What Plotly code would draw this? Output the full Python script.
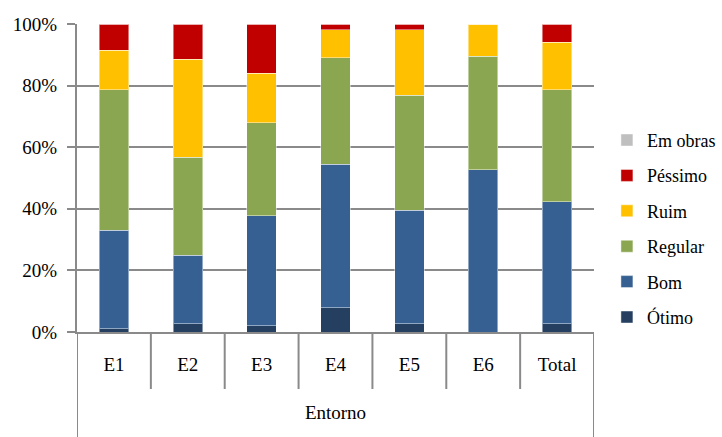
import plotly.graph_objects as go

categories = ["E1", "E2", "E3", "E4", "E5", "E6", "Total"]
otimo   = [1.0, 2.7, 2.0, 7.9, 2.7, 0.0, 2.7]
bom     = [32.1, 22.3, 35.8, 46.5, 36.8, 52.7, 39.6]
regular = [45.6, 31.8, 30.2, 34.6, 37.3, 36.8, 36.4]
ruim    = [12.8, 31.7, 16.0, 9.2, 21.4, 10.5, 15.4]
pessimo = [8.5, 11.5, 16.0, 1.8, 1.8, 0.0, 5.9]
em_obras = [0, 0, 0, 0, 0, 0, 0]
y_ticks = [0, 20, 40, 60, 80, 100]
group_label = "Entorno"

series = [
    ("Ótimo", otimo, "#243F60"),
    ("Bom", bom, "#366092"),
    ("Regular", regular, "#8BA650"),
    ("Ruim", ruim, "#FFC000"),
    ("Péssimo", pessimo, "#C00000"),
    ("Em obras", em_obras, "#BFBFBF"),
]

GRID = "#8A8A8A"
FONT = "Liberation Serif"

fig = go.Figure()
n = len(series)
for k, (name, vals, color) in enumerate(series):
    fig.add_trace(go.Bar(
        x=categories, y=vals, name=name, legendgroup=name, legendrank=n - k,
        marker=dict(color=color, line=dict(color="rgba(255,255,255,0.45)", width=1)),
    ))

# category separators below the axis
shapes = []
for i in range(len(categories) - 1):
    shapes.append(dict(type="line", xref="x", yref="paper", x0=i + 0.5, x1=i + 0.5,
                       y0=0, y1=-0.185, line=dict(color=GRID, width=2)))
for xb in (-0.5, len(categories) - 0.5):
    shapes.append(dict(type="line", xref="x", yref="paper", x0=xb, x1=xb,
                       y0=0, y1=-0.36, line=dict(color=GRID, width=2)))

fig.update_layout(
    width=722, height=437,
    margin=dict(l=77, r=128, t=24, b=105, autoexpand=False),
    paper_bgcolor="white", plot_bgcolor="white",
    barmode="stack", bargap=0.6,
    font=dict(family=FONT, size=19, color="#000000"),
    shapes=shapes,
    legend=dict(x=1.025, y=0.335, xanchor="left", yanchor="middle",
                traceorder="grouped", tracegroupgap=9,
                font=dict(family=FONT, size=18), itemwidth=30),
    xaxis=dict(
        type="category", range=[-0.5, len(categories) - 0.5],
        showline=True, linecolor=GRID, linewidth=2,
        ticks="outside", ticklen=14, tickcolor="rgba(0,0,0,0)",
        tickfont=dict(family=FONT, size=19),
        showgrid=False, fixedrange=True,
        title=dict(text=group_label, standoff=32, font=dict(family=FONT, size=19)),
    ),
    yaxis=dict(
        range=[0, 100], tickvals=y_ticks, ticktext=[f"{v}%" for v in y_ticks],
        tickfont=dict(family=FONT, size=19), ticklabelstandoff=6,
        showgrid=True, gridcolor=GRID, gridwidth=2,
        showline=True, linecolor=GRID, linewidth=2,
        ticks="outside", ticklen=8, tickcolor=GRID, tickwidth=2,
        zeroline=False, fixedrange=True,
    ),
)

fig.write_html("out.html")
